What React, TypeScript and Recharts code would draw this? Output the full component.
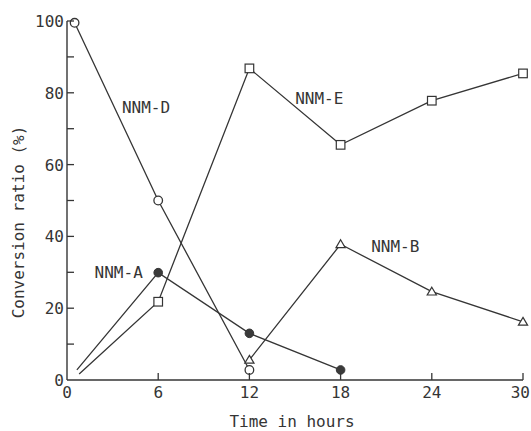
import React from 'react';
import { LineChart, Line, XAxis, YAxis, ReferenceDot } from 'recharts';

const hoursD = [0.5, 6, 12];
const nnmD = [99.5, 50, 2.8];
const hoursE = [0.8, 6, 12, 18, 24, 30];
const nnmE = [1.7, 21.8, 86.8, 65.5, 77.8, 85.4];
const hoursA = [0.65, 6, 12, 18];
const nnmA = [2.8, 29.9, 13, 2.8];
const hoursB = [12, 18, 24, 30];
const nnmB = [5.6, 37.8, 24.6, 16.2];
// whether the first point of each series carries a marker
const firstMarker = { D: true, E: false, A: false, B: true };

const xTicks = [0, 6, 12, 18, 24, 30];
const yTicks = [0, 10, 20, 30, 40, 50, 60, 70, 80, 90, 100];
const yLabelled = [0, 20, 40, 60, 80, 100];

const seriesLabels = [
  { name: 'NNM-D', x: 5.2, y: 75.8 },
  { name: 'NNM-E', x: 16.6, y: 78.5 },
  { name: 'NNM-A', x: 3.4, y: 29.9 },
  { name: 'NNM-B', x: 21.6, y: 37.3 },
];

const build = (xs: number[], ys: number[]) => xs.map((x, i) => ({ x, y: ys[i] }));
const dataD = build(hoursD, nnmD);
const dataE = build(hoursE, nnmE);
const dataA = build(hoursA, nnmA);
const dataB = build(hoursB, nnmB);

const INK = '#353535';
const FONT = '"DejaVu Sans Mono", "Liberation Mono", monospace';

const makeDot = (shape: string, first: boolean) => (props: any) => {
  const { cx, cy, index } = props;
  const key = `${shape}-${index}`;
  if (cx == null || cy == null) return <g key={key} />;
  if (index === 0 && !first) return <g key={key} />;
  if (shape === 'circle')
    return <circle key={key} cx={cx} cy={cy} r={4.3} fill="#fff" stroke={INK} strokeWidth={1.3} />;
  if (shape === 'filled')
    return <circle key={key} cx={cx} cy={cy} r={4.3} fill="#3a3a3a" stroke={INK} strokeWidth={1} />;
  if (shape === 'square')
    return <rect key={key} x={cx - 4.3} y={cy - 4.3} width={8.6} height={8.6} fill="#fff" stroke={INK} strokeWidth={1.2} />;
  return (
    <path
      key={key}
      d={`M${cx},${cy - 4.5} L${cx + 4.6},${cy + 3.3} L${cx - 4.6},${cy + 3.3} Z`}
      fill="#fff"
      stroke={INK}
      strokeWidth={1.2}
    />
  );
};

const XTick = (props: any) => {
  const { x, y, payload } = props;
  const last = payload.value === xTicks[xTicks.length - 1];
  return (
    <g>
      {payload.value !== 0 && <line x1={x} y1={y} x2={x} y2={y - 7} stroke={INK} strokeWidth={1.3} />}
      <text
        x={last ? x + 7 : x}
        y={y + 18}
        textAnchor={last ? 'end' : 'middle'}
        fill={INK}
        fontFamily={FONT}
        fontSize={16}
      >
        {payload.value}
      </text>
    </g>
  );
};

const YTick = (props: any) => {
  const { x, y, payload } = props;
  const lab = yLabelled.includes(payload.value);
  return (
    <g>
      {payload.value !== 0 && <line x1={x} y1={y} x2={x + 7} y2={y} stroke={INK} strokeWidth={1.3} />}
      {lab && (
        <text x={x - 3} y={y + 6} textAnchor="end" fill={INK} fontFamily={FONT} fontSize={16}>
          {payload.value}
        </text>
      )}
    </g>
  );
};

export default function App() {
  return (
    <div style={{ position: 'absolute', left: 0, top: 0, width: 531, height: 431, background: '#fff' }}>
      <LineChart width={531} height={431} margin={{ top: 21, right: 8, bottom: 11, left: 7 }}>
        <XAxis
          dataKey="x"
          type="number"
          domain={[0, 30]}
          ticks={xTicks}
          height={40}
          tickSize={0}
          tickMargin={0}
          tickLine={false}
          tick={<XTick />}
          axisLine={{ stroke: INK, strokeWidth: 1.4 }}
          label={{
            content: () => (
              <text x={292} y={427} textAnchor="middle" fill={INK} fontFamily={FONT} fontSize={16}>
                Time in hours
              </text>
            ),
          }}
        />
        <YAxis
          dataKey="y"
          type="number"
          domain={[0, 100]}
          ticks={yTicks}
          width={60}
          tickSize={0}
          tickMargin={0}
          tickLine={false}
          tick={<YTick />}
          axisLine={{ stroke: INK, strokeWidth: 1.4 }}
          label={{
            content: () => (
              <text
                x={18}
                y={222}
                transform="rotate(-90 18 222)"
                textAnchor="middle"
                dominantBaseline="central"
                fill={INK}
                fontFamily={FONT}
                fontSize={16}
              >
                Conversion ratio (%)
              </text>
            ),
          }}
        />
        <Line data={dataD} dataKey="y" stroke={INK} strokeWidth={1.3} isAnimationActive={false} dot={makeDot('circle', firstMarker.D)} activeDot={false} />
        <Line data={dataE} dataKey="y" stroke={INK} strokeWidth={1.3} isAnimationActive={false} dot={makeDot('square', firstMarker.E)} activeDot={false} />
        <Line data={dataA} dataKey="y" stroke={INK} strokeWidth={1.3} isAnimationActive={false} dot={makeDot('filled', firstMarker.A)} activeDot={false} />
        <Line data={dataB} dataKey="y" stroke={INK} strokeWidth={1.3} isAnimationActive={false} dot={makeDot('triangle', firstMarker.B)} activeDot={false} />
        {seriesLabels.map((s) => (
          <ReferenceDot
            key={s.name}
            x={s.x}
            y={s.y}
            r={0}
            fill="none"
            stroke="none"
            label={{
              content: (p: any) => {
                const vb = p.viewBox || {};
                const cx = (vb.x ?? 0) + (vb.width ?? 0) / 2;
                const cy = (vb.y ?? 0) + (vb.height ?? 0) / 2;
                return (
                  <text x={cx} y={cy} textAnchor="middle" dominantBaseline="central" fill={INK} fontFamily={FONT} fontSize={16}>
                    {s.name}
                  </text>
                );
              },
            }}
          />
        ))}
      </LineChart>
    </div>
  );
}
